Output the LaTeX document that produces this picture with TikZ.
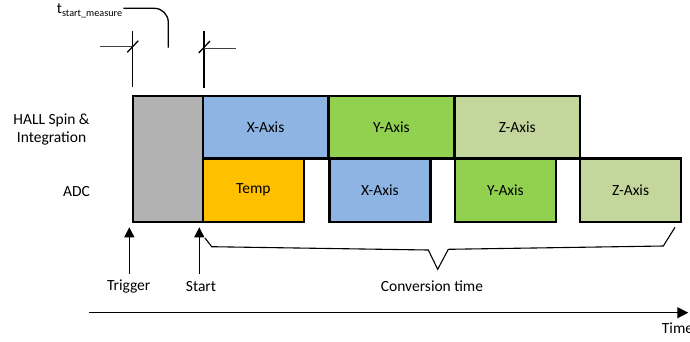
\documentclass[tikz,border=0pt]{standalone}
\usepackage{fontspec}
\setmainfont{Carlito}
\usetikzlibrary{arrows.meta}
\definecolor{grayb}{HTML}{B2B2B2}
\definecolor{bluex}{HTML}{8EB4E3}
\definecolor{greeny}{HTML}{92D050}
\definecolor{greenz}{HTML}{C3D69B}
\definecolor{tempc}{HTML}{FFC000}
\begin{document}
\begin{tikzpicture}[x=1pt,y=-1pt,
  box/.style={draw=black, line width=2.2pt, anchor=north west, inner sep=0pt,
    font=\fontsize{15.5}{18}\selectfont},
  lbl/.style={font=\fontsize{15.5}{18}\selectfont, inner sep=0pt},
  vtick/.style={line width=1.3pt, black},
  htick/.style={line width=1pt, black!75},
  arr/.style={line width=1.3pt, -{Triangle[length=10pt,width=10pt]}},
  brace/.style={line width=1.1pt, line join=miter}]
\useasboundingbox (0,0) rectangle (690,341);

% boxes
\node[box, fill=grayb, minimum width=69.7pt, minimum height=125.7pt] (gray) at (132,95) {};
\node[box, fill=bluex, minimum width=125.6pt, minimum height=62.3pt] (xtop) at (201.7,95) {X-Axis};
\node[box, fill=greeny, minimum width=126pt, minimum height=62.3pt] (ytop) at (327.3,95) {Y-Axis};
\node[box, fill=greenz, minimum width=125.7pt, minimum height=62.3pt] (ztop) at (453.3,95) {Z-Axis};
\node[box, fill=tempc, minimum width=101pt, minimum height=63.4pt] (temp) at (201.7,157.3) {Temp};
\node[box, fill=bluex, minimum width=101pt, minimum height=63.4pt] (xbot) at (328.3,157.3) {X-Axis};
\node[box, fill=greeny, minimum width=101.3pt, minimum height=63.4pt] (ybot) at (453.7,157.3) {Y-Axis};
\node[box, fill=greenz, minimum width=101pt, minimum height=63.4pt] (zbot) at (579,157.3) {Z-Axis};

% row labels
\node[lbl, align=center] (hall) at (51.5,129) {HALL Spin \&\\Integration};
\node[lbl, anchor=east] (adc) at (90,191.5) {ADC};

% bottom labels
\node[lbl] (trig) at (128.7,286.7) {Trigger};
\node[lbl] (start) at (201,286.7) {Start};
\node[lbl] (conv) at (432,286) {Conversion time};
\node[lbl, anchor=west] (time) at (661.7,328.3) {Time};

% arrows
\coordinate (trigB) at (129.3,274);
\coordinate (trigT) at (129.3,227.3);
\coordinate (startB) at (199.3,274);
\coordinate (startT) at (199.3,227.3);
\draw[arr] (trigB) -- (trigT);
\draw[arr] (startB) -- (startT);

% brace
\coordinate (b1) at (205,238);
\coordinate (b2) at (211.7,246.7);
\coordinate (b3) at (428.3,250);
\coordinate (b4) at (437.7,269.3);
\coordinate (b5) at (448.3,249.3);
\coordinate (b6) at (663.3,246);
\coordinate (b7) at (675,227.3);
\draw[brace] (b1) -- (b2) -- (b3) -- (b4) -- (b5) -- (b6) -- (b7);

% time axis
\coordinate (ax0) at (89.3,312.7);
\coordinate (ax1) at (688.3,312.7);
\draw[line width=1.3pt, -{Triangle[length=11pt,width=11pt]}] (ax0) -- (ax1);

% measurement ticks
\coordinate (v1a) at (132.7,31);
\coordinate (v1b) at (132.7,87.3);
\coordinate (h1a) at (100,46.7);
\coordinate (h1b) at (132.7,46.7);
\coordinate (s1a) at (127.3,52.3);
\coordinate (s1b) at (138.3,40.7);
\draw[vtick] (v1a) -- (v1b);
\draw[htick] (h1a) -- (h1b);
\draw[vtick] (s1a) -- (s1b);
\coordinate (v2a) at (204,31);
\coordinate (v2b) at (204,88);
\coordinate (h2a) at (204,48);
\coordinate (h2b) at (236,48);
\coordinate (s2a) at (198.7,53);
\coordinate (s2b) at (210,41);
\draw[vtick] (v2a) -- (v2b);
\draw[htick] (h2a) -- (h2b);
\draw[vtick] (s2a) -- (s2b);

% t_start_measure label
\node[anchor=base west, inner sep=0pt] (tsm) at (56.7,13.3)
  {\fontsize{15.5}{18}\selectfont t\raisebox{-2.7pt}{\fontsize{10.2}{12}\selectfont start\_measure}};
\coordinate (c0) at (123.3,8.3);
\coordinate (c1) at (168.3,47.7);
\draw[line width=1.3pt, rounded corners=14pt] (c0) -| (c1);
\end{tikzpicture}
\end{document}
